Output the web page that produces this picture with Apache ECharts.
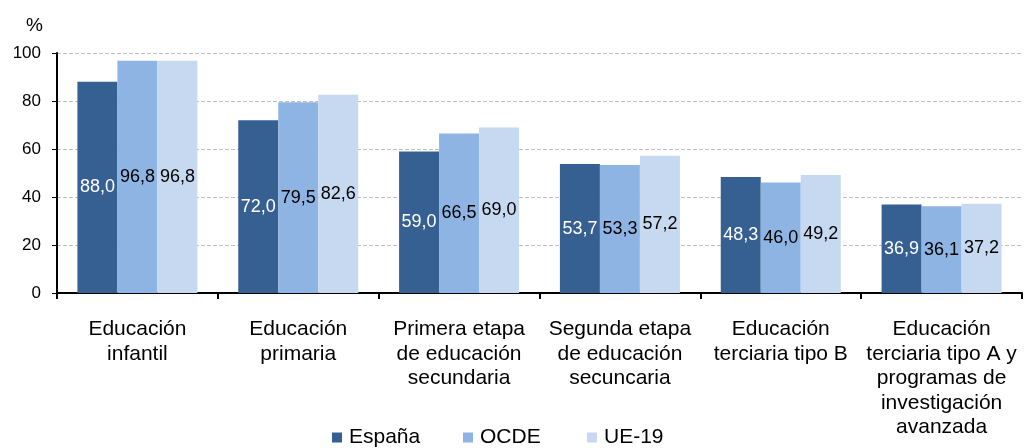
<!DOCTYPE html>
<html>
<head>
<meta charset="utf-8">
<script src="https://cdn.jsdelivr.net/npm/echarts@6/dist/echarts.min.js"></script>
<style>
  html, body { margin: 0; padding: 0; background: #ffffff; }
  #chart { width: 1024px; height: 448px; }
</style>
</head>
<body>
<div id="chart"></div>
<script>
var categories = [
    'Educación\ninfantil',
    'Educación\nprimaria',
    'Primera etapa\nde educación\nsecundaria',
    'Segunda etapa\nde educación\nsecuncaria',
    'Educación\nterciaria tipo B',
    'Educación\nterciaria tipo A y\nprogramas de\ninvestigación\navanzada'
];
var espana = [88.0, 72.0, 59.0, 53.7, 48.3, 36.9];
var ocde = [96.8, 79.5, 66.5, 53.3, 46.0, 36.1];
var ue19 = [96.8, 82.6, 69.0, 57.2, 49.2, 37.2];
var yTicks = [0, 20, 40, 60, 80, 100];

var font = 'Liberation Sans, Arial, sans-serif';

function fmt(p) {
    return p.value.toFixed(1).replace('.', ',');
}

function barSeries(name, data, color, labelColor) {
    return {
        name: name,
        type: 'bar',
        data: data,
        barWidth: 40,
        barGap: '0%',
        itemStyle: { color: color },
        label: {
            show: true,
            position: 'inside',
            formatter: fmt,
            color: labelColor,
            fontFamily: font,
            fontSize: 18
        }
    };
}

var chart = echarts.init(document.getElementById('chart'));

var legendBase = {
    top: 427,
    padding: 0,
    itemWidth: 10,
    itemHeight: 10,
    itemGap: 0,
    icon: 'rect',
    textStyle: { fontFamily: font, fontSize: 21, color: '#000', padding: [0, 0, 0, 2] }
};

var option = {
    backgroundColor: '#ffffff',
    animation: false,
    legend: [
        Object.assign({}, legendBase, { data: ['España'], left: 332 }),
        Object.assign({}, legendBase, { data: ['OCDE'], left: 463 }),
        Object.assign({}, legendBase, { data: ['UE-19'], left: 587 })
    ],
    grid: {
        left: 57,
        right: 2,
        top: 53,
        bottom: 155,
        containLabel: false
    },
    xAxis: {
        type: 'category',
        data: categories,
        axisLine: { lineStyle: { color: '#000', width: 2 } },
        axisTick: { show: true, length: 6, lineStyle: { color: '#000', width: 2 } },
        axisLabel: {
            interval: 0,
            margin: 24,
            color: '#000',
            fontFamily: font,
            fontSize: 21,
            lineHeight: 24.5
        }
    },
    yAxis: {
        type: 'value',
        min: yTicks[0],
        max: yTicks[yTicks.length - 1],
        interval: 20,
        name: '%',
        nameGap: 18,
        nameTextStyle: { color: '#000', fontFamily: font, fontSize: 19, align: 'right', padding: [0, 14, 0, 0] },
        axisLine: { show: true, lineStyle: { color: '#000', width: 2 } },
        axisTick: { show: true, length: 5, lineStyle: { color: '#000', width: 1 } },
        axisLabel: { color: '#000', fontFamily: font, fontSize: 17, margin: 16 },
        splitLine: {
            lineStyle: { type: 'dashed', color: '#bfbfbf', width: 1 }
        }
    },
    series: [
        barSeries('España', espana, '#376092', '#ffffff'),
        barSeries('OCDE', ocde, '#8EB4E3', '#000000'),
        barSeries('UE-19', ue19, '#C6D9F1', '#000000')
    ]
};

chart.setOption(option);
</script>
</body>
</html>
